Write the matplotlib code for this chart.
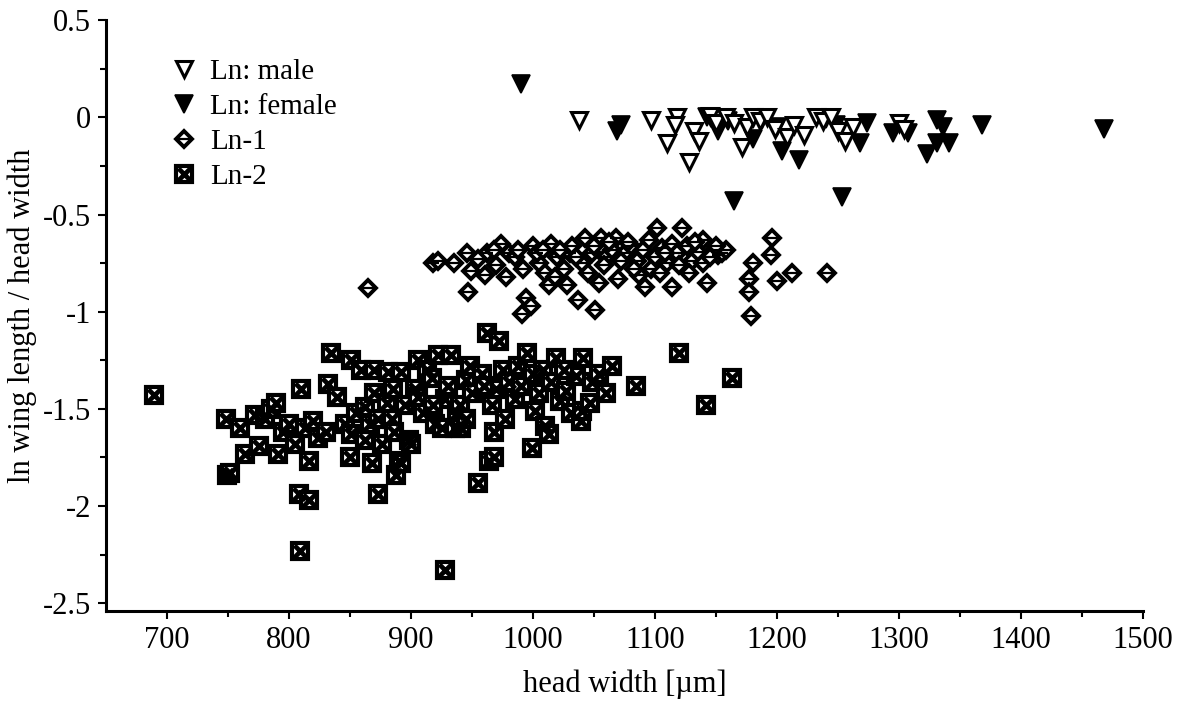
import matplotlib
matplotlib.use("Agg")
import matplotlib.pyplot as plt

# Ln: male (open triangles)
male_x = [1038, 1097, 1118, 1116, 1110, 1128, 1132, 1136, 1145, 1150, 1158, 1165, 1171,
          1175, 1180, 1186, 1192, 1198, 1208, 1214, 1222, 1232, 1238, 1244, 1250, 1256,
          1262, 1300, 1304]
male_y = [-0.015, -0.015, 0.0, -0.04, -0.13, -0.23, -0.07, -0.12, 0.01, -0.03, 0.0, -0.03, -0.15,
          -0.05, 0.0, -0.02, 0.0, -0.06, -0.10, -0.04, -0.09, 0.0, -0.02, 0.0, -0.07, -0.12,
          -0.05, -0.03, -0.06]

# Ln: female (filled triangles)
female_x = [990, 1069, 1072, 1143, 1152, 1160, 1188, 1204, 1218, 1165, 1253, 1240, 1248,
            1268, 1274, 1295, 1307, 1323, 1331, 1336, 1331, 1341, 1368, 1468, 1200, 1180]
female_y = [0.17, -0.07, -0.04, 0.0, -0.07, -0.02, -0.015, -0.17, -0.22, -0.43, -0.41, -0.01, -0.04,
            -0.13, -0.03, -0.08, -0.08, -0.19, -0.015, -0.05, -0.13, -0.13, -0.04, -0.06, -0.05, -0.11]

# Ln-1 (diamonds)
ln1_x = [865, 918, 922, 935, 946, 949, 961, 962, 947, 974, 980, 985, 994, 991, 998, 1000,
         1005, 1010, 1013, 1015, 1020, 1025, 1030, 1032, 1037, 1040, 1043, 1048, 1051, 1054,
         1056, 1060, 1065, 1068, 1070, 1075, 1080, 1085, 1087, 1090, 1092, 1095, 1100, 1102,
         1106, 1110, 1114, 1114, 1118, 1122, 1126, 1130, 1135, 1139, 1139, 1143, 1148, 1152,
         1155, 1158, 1177, 1177, 1179, 1180, 1195, 1196, 1200, 1212, 1241,
         955, 968, 970, 978, 988, 992, 1003, 1008, 1018, 1022, 1028, 1035, 1045, 1058, 1062,
         1072, 1078, 1083, 1097, 1104, 1108, 1120, 1128, 1133, 1145, 1150, 1050]
ln1_y = [-0.88, -0.75, -0.74, -0.75, -0.70, -0.79, -0.81, -0.70, -0.90, -0.65, -0.70, -0.72, -0.93, -1.01, -0.97, -0.66,
         -0.75, -0.80, -0.86, -0.65, -0.72, -0.78, -0.70, -0.66, -0.94, -0.75, -0.62, -0.70, -0.99, -0.85,
         -0.62, -0.72, -0.68, -0.62, -0.83, -0.70, -0.66, -0.74, -0.81, -0.68, -0.87, -0.63, -0.72, -0.57,
         -0.67, -0.75, -0.65, -0.87, -0.70, -0.57, -0.66, -0.74, -0.69, -0.63, -0.75, -0.85, -0.68, -0.71,
         -0.70, -0.68, -0.83, -0.90, -1.02, -0.75, -0.71, -0.62, -0.84, -0.80, -0.80,
         -0.73, -0.68, -0.76, -0.82, -0.68, -0.78, -0.70, -0.68, -0.82, -0.68, -0.86, -0.72, -0.80, -0.76, -0.64,
         -0.74, -0.64, -0.78, -0.78, -0.80, -0.70, -0.76, -0.80, -0.64, -0.72, -0.66, -0.66]

# Ln-2 (crossed squares)
ln2_x = [689, 748, 749, 752, 760, 764, 772, 775, 780, 785, 789, 791, 795, 800, 805, 810, 808,
         816, 809, 813, 816, 820, 824, 830, 834, 832, 839, 846, 850, 851, 851, 855, 859, 862,
         862, 866, 868, 870, 873, 873, 876, 881, 884, 886, 888, 890, 892, 892, 895, 898, 900,
         903, 906, 906, 910, 913, 917, 920, 922, 925, 928, 928, 930, 933, 936, 938, 940, 941,
         945, 948, 950, 955, 958, 962, 964, 966, 968, 968, 970, 972, 975, 977, 980, 985, 988,
         990, 995, 999, 1000, 1002, 1005, 1008, 1010, 1013, 1015, 1019, 1022, 1027, 1031, 1035,
         1039, 1040, 1041, 1048, 1054, 1060, 1065, 1084, 1120, 1142, 1163,
         870, 880, 885, 918, 960, 945, 1025, 1047]
ln2_y = [-1.43, -1.55, -1.84, -1.83, -1.60, -1.73, -1.53, -1.69, -1.55, -1.50, -1.47, -1.73, -1.62, -1.58, -1.68, -1.40, -1.94,
         -1.97, -2.23, -1.60, -1.77, -1.56, -1.65, -1.62, -1.21, -1.37, -1.44, -1.58, -1.75, -1.25, -1.63, -1.52, -1.30, -1.49,
         -1.66, -1.58, -1.78, -1.30, -1.55, -1.94, -1.68, -1.31, -1.55, -1.62, -1.84, -1.77, -1.31, -1.78, -1.48, -1.66, -1.68,
         -1.40, -1.25, -1.44, -1.52, -1.30, -1.34, -1.58, -1.22, -1.60, -1.45, -2.33, -1.38, -1.22, -1.60, -1.52, -1.48, -1.60,
         -1.35, -1.28, -1.42, -1.88, -1.32, -1.11, -1.77, -1.48, -1.62, -1.75, -1.40, -1.15, -1.30, -1.55, -1.36, -1.45, -1.28,
         -1.38, -1.21, -1.70, -1.32, -1.51, -1.42, -1.30, -1.59, -1.63, -1.36, -1.24, -1.46, -1.41, -1.52, -1.33,
         -1.56, -1.51, -1.24, -1.36, -1.32, -1.42, -1.28, -1.38, -1.21, -1.48, -1.34,
         -1.42, -1.47, -1.40, -1.48, -1.38, -1.55, -1.30, -1.47]

x_ticks = [700, 800, 900, 1000, 1100, 1200, 1300, 1400, 1500]
y_ticks = [-2.5, -2, -1.5, -1, -0.5, 0, 0.5]
y_tick_labels = ["-2.5", "-2", "-1.5", "-1", "-0.5", "0", "0.5"]

plt.rcParams['font.family'] = ['Liberation Serif', 'DejaVu Serif']

fig = plt.figure(figsize=(11.89, 7.01), dpi=100)
ax = fig.add_axes([0.0892, 0.1284, 0.9613 - 0.0892, 0.971 - 0.1284])

# Ln-2: white square, thick edge, heavy black cross inside
sq = ax.plot(ln2_x, ln2_y, ls="none", marker="s", ms=11, mfc="white", mec="black", mew=3.0)[0]
sqx = ax.plot(ln2_x, ln2_y, ls="none", marker="x", ms=8.5, mec="black", mew=3.4)[0]

# Ln-1: open diamond with a bar
dm = ax.plot(ln1_x, ln1_y, ls="none", marker="D", ms=8, mfc="white", mec="black", mew=2.8)[0]
dmb = ax.plot(ln1_x, ln1_y, ls="none", marker="_", ms=9, mec="black", mew=1.6)[0]

fem = ax.plot(female_x, female_y, ls="none", marker="v", ms=13, mfc="black", mec="black", mew=1.2)[0]
mal = ax.plot(male_x, male_y, ls="none", marker="v", ms=12, mfc="white", mec="black", mew=2.2)[0]

ax.set_xlim(650, 1500)
ax.set_ylim(-2.54, 0.5)
ax.set_xticks(x_ticks)
ax.set_xticks(range(750, 1500, 100), minor=True)
ax.set_yticks(y_ticks)
ax.set_yticklabels(y_tick_labels)
ax.set_yticks([-2.25, -1.75, -1.25, -0.75, -0.25, 0.25], minor=True)

for s in ["top", "right"]:
    ax.spines[s].set_visible(False)
for s in ["left", "bottom"]:
    ax.spines[s].set_linewidth(2.2)

ax.tick_params(which="major", direction="out", length=6, width=1.5, labelsize=22, pad=5)
ax.tick_params(which="minor", direction="out", length=4, width=1.5)

ax.set_xlabel("head width [\u00b5m]", fontsize=22, labelpad=10)
ax.set_ylabel("ln wing length / head width", fontsize=22, labelpad=4)

ax.legend([mal, fem, (dm, dmb), (sq, sqx)], ["Ln: male", "Ln: female", "Ln-1", "Ln-2"],
          loc="upper left", bbox_to_anchor=(0.05, 0.955), frameon=False, fontsize=21,
          handlelength=1.0, handletextpad=0.4, labelspacing=0.3, borderaxespad=0)

fig.savefig("out.png", dpi=100)
